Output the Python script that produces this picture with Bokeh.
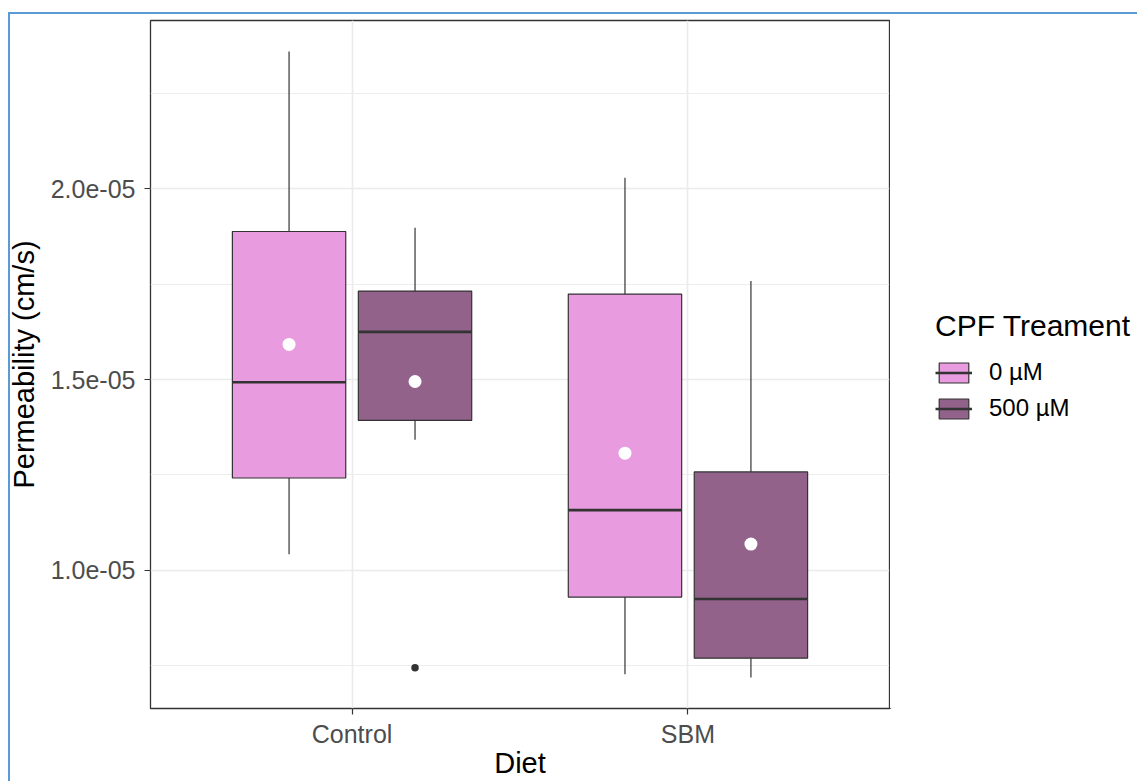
import numpy as np
from bokeh.plotting import figure
from bokeh.layouts import row
from bokeh.models import ColumnDataSource, Range1d, FixedTicker, Legend, LegendItem
from bokeh.transform import dodge
from bokeh.embed import file_html
from bokeh.resources import INLINE

# ---- data -------------------------------------------------------------
diets = ["Control", "SBM"]
treatments = ["0 µM", "500 µM"]
treatment_colors = ["#E89BDF", "#93628A"]

box_diet = ["Control", "Control", "SBM", "SBM"]
box_treatment = ["0 µM", "500 µM", "0 µM", "500 µM"]
whisker_low = [1.042e-5, 1.342e-5, 0.728e-5, 0.719e-5]
q1 = [1.242e-5, 1.393e-5, 0.930e-5, 0.770e-5]
median = [1.493e-5, 1.625e-5, 1.158e-5, 0.925e-5]
q3 = [1.888e-5, 1.732e-5, 1.724e-5, 1.258e-5]
whisker_high = [2.360e-5, 1.898e-5, 2.029e-5, 1.758e-5]
mean = [1.592e-5, 1.495e-5, 1.307e-5, 1.069e-5]

outlier_diet = ["Control"]
outlier_treatment = ["500 µM"]
outlier_value = [0.745e-5]

y_ticks = [1.0e-5, 1.5e-5, 2.0e-5]
y_tick_labels = ["1.0e-05", "1.5e-05", "2.0e-05"]
y_minor_ticks = [0.75e-5, 1.25e-5, 1.75e-5, 2.25e-5]

legend_title = "CPF Treament"

# ---- layout constants --------------------------------------------------
DODGE = 0.375
BOX_W = 0.3375
FONT = "Liberation Sans"
DARK = "#333333"
FRAME_BLUE = "#5B9BD5"

p = figure(width=890, height=781, output_backend="svg", toolbar_location=None,
           x_range=Range1d(0.4, 2.6), y_range=Range1d(0.638e-5, 2.441e-5),
           min_border_left=150, min_border_right=1, min_border_top=20,
           min_border_bottom=40)
p.background_fill_color = "white"
p.border_fill_alpha = 0
p.outline_line_color = DARK
p.outline_line_width = 1.3

# legend-only figure: its view range lies away from the data, so it only shows the legend
lp = figure(width=247, height=781, output_backend="svg", toolbar_location=None,
            x_range=Range1d(100, 101), y_range=Range1d(100, 101),
            x_axis_location=None, y_axis_location=None,
            min_border_left=0, min_border_right=0, min_border_top=0, min_border_bottom=0)
lp.grid.visible = False
lp.outline_line_color = None
lp.background_fill_alpha = 0
lp.border_fill_alpha = 0

legend_items = []
for ti, (t, col) in enumerate(zip(treatments, treatment_colors)):
    idx = [i for i, bt in enumerate(box_treatment) if bt == t]
    src = ColumnDataSource(dict(
        base=[diets.index(box_diet[i]) + 1 for i in idx],
        lw=[whisker_low[i] for i in idx],
        q1=[q1[i] for i in idx],
        med=[median[i] for i in idx],
        q3=[q3[i] for i in idx],
        hw=[whisker_high[i] for i in idx],
        mean=[mean[i] for i in idx],
    ))
    off = (ti - 0.5) * DODGE
    xc = dodge("base", off)
    xl = dodge("base", off - BOX_W / 2)
    xr = dodge("base", off + BOX_W / 2)
    p.segment(x0=xc, y0="lw", x1=xc, y1="q1", source=src, line_color=DARK, line_width=1.2)
    p.segment(x0=xc, y0="q3", x1=xc, y1="hw", source=src, line_color=DARK, line_width=1.2)
    p.vbar(x=xc, width=BOX_W, bottom="q1", top="q3", source=src,
           fill_color=col, line_color=DARK, line_width=1.2)
    p.segment(x0=xl, y0="med", x1=xr, y1="med", source=src, line_color=DARK, line_width=2.6)
    oidx = [i for i, ot in enumerate(outlier_treatment) if ot == t]
    if oidx:
        osrc = ColumnDataSource(dict(
            base=[diets.index(outlier_diet[i]) + 1 for i in oidx],
            v=[outlier_value[i] for i in oidx]))
        p.scatter(x=xc, y="v", source=osrc, size=7.5, fill_color=DARK, line_color=None)
    p.scatter(x=xc, y="mean", source=src, size=13, fill_color="white", line_color=None)

    # legend key glyphs (same data, outside the legend figure's view)
    k_box = lp.vbar(x=xc, width=BOX_W, bottom="q1", top="q3", source=src,
                    fill_color=col, line_color=DARK, line_width=1.2)
    k_med = lp.segment(x0=xl, y0="med", x1=xr, y1="med", source=src,
                       line_color=DARK, line_width=2.4)
    legend_items.append(LegendItem(label=t, renderers=[k_box, k_med]))

# ---- axes & grid -------------------------------------------------------
x_ticks = [i + 1 for i in range(len(diets))]
p.xaxis.ticker = FixedTicker(ticks=x_ticks)
p.xgrid.ticker = FixedTicker(ticks=x_ticks)
p.xaxis.major_label_overrides = {x: d for x, d in zip(x_ticks, diets)}
p.yaxis.ticker = FixedTicker(ticks=y_ticks, minor_ticks=y_minor_ticks)
p.ygrid.ticker = FixedTicker(ticks=y_ticks, minor_ticks=y_minor_ticks)
p.yaxis.major_label_overrides = {v: s for v, s in zip(y_ticks, y_tick_labels)}

for g in (p.xgrid, p.ygrid):
    g.grid_line_color = "#EBEBEB"
    g.grid_line_width = 1.6
p.ygrid.minor_grid_line_color = "#EBEBEB"
p.ygrid.minor_grid_line_width = 0.9

for ax in (p.xaxis, p.yaxis):
    ax.axis_line_color = None
    ax.major_tick_line_color = DARK
    ax.major_tick_line_width = 1.2
    ax.major_tick_in = 0
    ax.major_tick_out = 6
    ax.minor_tick_line_color = None
    ax.major_label_text_font = FONT
    ax.major_label_text_font_size = "25px"
    ax.major_label_text_color = "#4D4D4D"
    ax.axis_label_text_font = FONT
    ax.axis_label_text_font_size = "29px"
    ax.axis_label_text_font_style = "normal"
    ax.axis_label_text_color = "black"

p.xaxis.axis_label = "Diet"
p.yaxis.axis_label = "Permeability (cm/s)"
p.xaxis.major_label_standoff = 5
p.xaxis.axis_label_standoff = -4
p.yaxis.major_label_standoff = 9
p.yaxis.axis_label_standoff = 8

legend = Legend(items=legend_items, title=legend_title, location=(45, 286))
legend.title_text_font = FONT
legend.title_text_font_size = "30px"
legend.title_text_font_style = "normal"
legend.title_text_color = "black"
legend.title_standoff = 15
legend.label_text_font = FONT
legend.label_text_font_size = "24px"
legend.label_text_color = "black"
legend.glyph_width = 37
legend.glyph_height = 25
legend.label_standoff = 17
legend.spacing = 8
legend.padding = 0
legend.margin = 0
legend.border_line_color = None
legend.background_fill_alpha = 0
lp.add_layout(legend)

# thin blue frame around the whole picture (as in the reference screenshot)
frame_bg = (f"linear-gradient({FRAME_BLUE},{FRAME_BLUE}) 8px 12px / 2px 100% no-repeat, "
            f"linear-gradient({FRAME_BLUE},{FRAME_BLUE}) 8px 12px / 100% 2px no-repeat, white")
layout = row(p, lp, styles={"background": frame_bg})
open("out.html", "w").write(file_html(layout, INLINE))
